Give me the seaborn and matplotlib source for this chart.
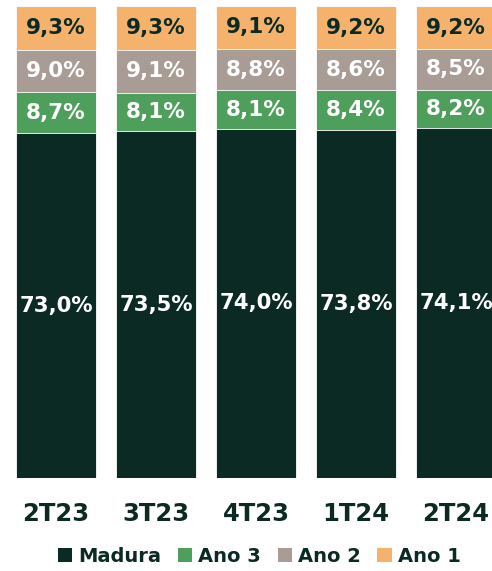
import numpy as np
import pandas as pd
import matplotlib

matplotlib.use("Agg")
import matplotlib.pyplot as plt
import seaborn as sns
from matplotlib.patches import Patch

quarters = ["2T23", "3T23", "4T23", "1T24", "2T24"]
madura = [73.0, 73.5, 74.0, 73.8, 74.1]
ano3 = [8.7, 8.1, 8.1, 8.4, 8.2]
ano2 = [9.0, 9.1, 8.8, 8.6, 8.5]
ano1 = [9.3, 9.3, 9.1, 9.2, 9.2]

series = ["Madura", "Ano 3", "Ano 2", "Ano 1"]
colors = ["#0c2a24", "#4e9e5c", "#a89c94", "#f4b26c"]
text_colors = ["white", "white", "white", "#0c2a24"]
DARK = "#0c2a24"

sns.set_theme(style="white")
plt.rcParams["font.family"] = ["DejaVu Sans"]

df = pd.DataFrame({"quarter": quarters, "Madura": madura, "Ano 3": ano3,
                   "Ano 2": ano2, "Ano 1": ano1})
cum = df[series].cumsum(axis=1)

fig = plt.figure(figsize=(4.92, 5.71), dpi=100)
ax = fig.add_axes([16 / 492, 93 / 571, 1 - 16 / 492, 472 / 571])

# layered bars: tallest cumulative first, so each stack shows its segment
for i in range(len(series) - 1, -1, -1):
    sns.barplot(x=df["quarter"], y=cum[series[i]], color=colors[i], width=0.8,
                saturation=1, edgecolor="white", linewidth=0.6, ax=ax)

for i, name in enumerate(series):
    vals = df[name].values
    mids = cum[name].values - vals / 2
    for xi, (v, m) in enumerate(zip(vals, mids)):
        size = 15.3 if name == "Madura" else 15.5
        ax.text(xi, m, f"{v:.1f}%".replace(".", ","), ha="center", va="center",
                color=text_colors[i], fontsize=size, fontweight="bold")

ax.set_xlim(-0.4, 4.36)
ax.set_ylim(0, 100)
ax.set_xlabel("")
ax.set_ylabel("")
ax.set_yticks([])
ax.tick_params(axis="x", length=0, pad=17)
for lbl in ax.get_xticklabels():
    lbl.set_fontsize(17.5)
    lbl.set_fontweight("bold")
    lbl.set_color(DARK)
sns.despine(ax=ax, left=True, bottom=True)

handles = [Patch(facecolor=c, edgecolor="none") for c in colors]
leg = fig.legend(handles, series, loc="lower center", bbox_to_anchor=(0.527, -0.022),
                 ncol=4, frameon=False, handlelength=0.75, handleheight=0.75,
                 handletextpad=0.3, columnspacing=0.85,
                 prop={"size": 14, "weight": "bold"})
for t in leg.get_texts():
    t.set_color(DARK)

fig.savefig("out.png", dpi=100)
plt.close()
